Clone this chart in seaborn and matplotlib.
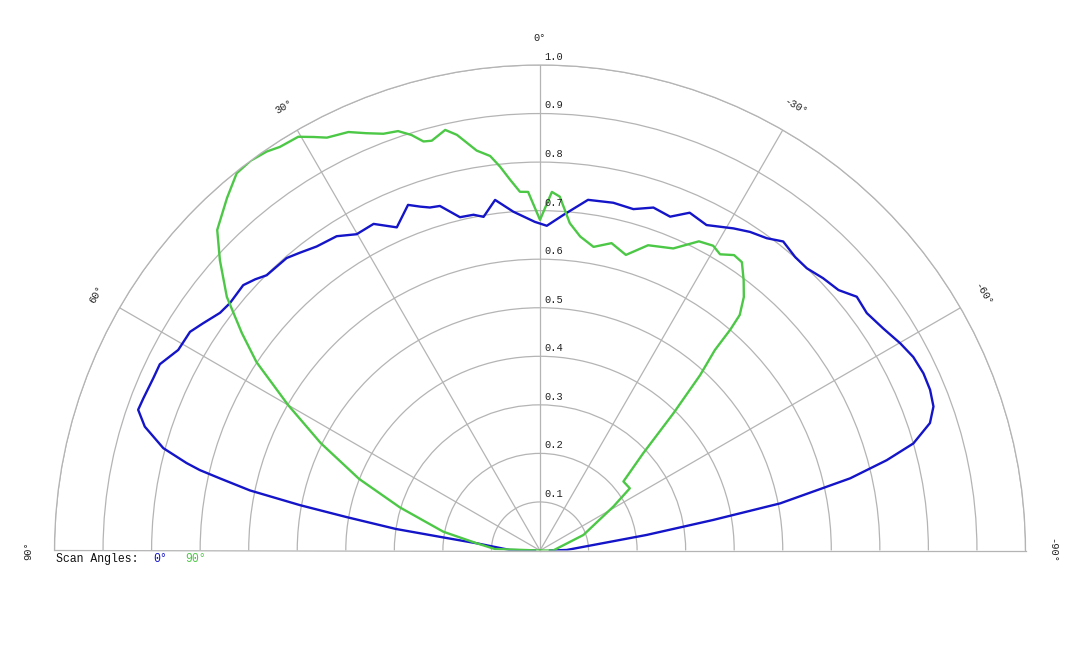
import numpy as np
import pandas as pd
import matplotlib
matplotlib.use("Agg")
import matplotlib.pyplot as plt
import seaborn as sns

# scan angle 0 deg (blue), angles in degrees, 0 = up, positive = left
blue_deg = [90, 89.0, 83.5, 82.3, 81.5, 80.2, 79.3, 78.3, 77.3, 76.7, 76.1, 74.8, 72.6,
            70.7, 69.0, 66.0, 63.9, 61.0, 58.0, 56.0, 53.4, 51.4, 48.2, 46.4, 44.8,
            40.9, 38.9, 36.3, 32.9, 30.1, 27.0, 23.9, 20.9, 19.2, 17.8, 16.2, 13.5,
            11.2, 9.6, 7.3, 4.5, 0.9, -1.2, -4.0, -7.8, -11.9, -15.3, -18.3, -21.3,
            -23.9, -27.1, -31.0, -33.4, -36.0, -38.2, -41.0, -43.4, -46.1, -48.9,
            -51.3, -54.0, -57.1, -60.1, -62.6, -65.2, -67.6, -69.9, -71.9, -74.0,
            -75.4, -76.9, -78.9, -80.0, -81.7, -84.1, -88.9, -90]
blue_r = [0.01, 0.062, 0.131, 0.201, 0.300, 0.404, 0.503, 0.610, 0.676, 0.720, 0.750,
          0.804, 0.853, 0.877, 0.875, 0.872, 0.872, 0.852, 0.850, 0.837, 0.821, 0.817,
          0.820, 0.810, 0.799, 0.797, 0.788, 0.777, 0.771, 0.753, 0.755, 0.728, 0.762,
          0.750, 0.742, 0.739, 0.706, 0.705, 0.697, 0.728, 0.700, 0.677, 0.669, 0.693,
          0.729, 0.732, 0.729, 0.744, 0.738, 0.761, 0.753, 0.774, 0.786, 0.795, 0.810,
          0.801, 0.800, 0.809, 0.816, 0.836, 0.832, 0.842, 0.856, 0.866, 0.870, 0.869,
          0.863, 0.845, 0.800, 0.738, 0.656, 0.504, 0.362, 0.222, 0.110, 0.055, 0.020]

# scan angle 90 deg (green)
green_deg = [90, 88.1, 83.5, 79.0, 72.9, 68.4, 63.9, 60.0, 56.4, 53.9, 51.0, 47.8, 45.2,
             41.6, 38.8, 36.6, 34.4, 32.8, 30.3, 28.7, 27.3, 24.6, 22.6, 20.6, 18.7,
             17.2, 15.9, 14.8, 12.7, 11.3, 9.0, 7.2, 5.95, 4.6, 3.2, 1.9, 0, -1.9, -3.2,
             -5.2, -7.3, -10.0, -13.1, -16.2, -19.5, -23.8, -27.2, -29.6, -31.3, -33.3,
             -35.0, -37.0, -38.8, -40.3, -40.75, -41.1, -42.4, -44.2, -46.7, -50.4,
             -55.3, -59.1, -70.3, -90, -90]
green_r = [0.0, 0.093, 0.131, 0.203, 0.302, 0.401, 0.503, 0.599, 0.701, 0.760, 0.830,
           0.890, 0.937, 0.971, 0.997, 1.0, 0.996, 0.989, 0.987, 0.971, 0.957, 0.948,
           0.931, 0.917, 0.912, 0.896, 0.876, 0.873, 0.888, 0.873, 0.834, 0.819, 0.795,
           0.766, 0.740, 0.739, 0.681, 0.739, 0.730, 0.677, 0.652, 0.635, 0.650, 0.634,
           0.667, 0.680, 0.716, 0.722, 0.714, 0.728, 0.725, 0.697, 0.670, 0.636, 0.600,
           0.548, 0.489, 0.394, 0.292, 0.223, 0.225, 0.176, 0.095, 0.027, 0.0]

ring_values = [0.1, 0.2, 0.3, 0.4, 0.5, 0.6, 0.7, 0.8, 0.9, 1.0]
spoke_deg = [-60, -30, 0, 30, 60]
angle_labels = [90, 60, 30, 0, -30, -60, -90]

BLUE = "#1414c8"
GREEN = "#4cc846"
GRID = "#b4b4b4"

sns.set_style("white")
plt.rcParams["font.family"] = ["Liberation Mono", "DejaVu Sans Mono"]

fig = plt.figure(figsize=(10.8, 6.48), dpi=100)
# the polar box is forced square; the half disc sits in its vertical middle,
# so the box is 971 px square and centred 242.75 px above the disc centre
R = 485.5
cx, cy = 540, 648 - 550.5
ax = fig.add_axes([(cx - R) / 1080, (cy + R / 2 - R) / 648, 2 * R / 1080, 2 * R / 648],
                  projection="polar")
ax.set_theta_zero_location("N")
ax.set_theta_direction(1)
ax.set_thetamin(-90)
ax.set_thetamax(90)

blue = pd.DataFrame({"theta": np.deg2rad(blue_deg), "r": blue_r})
green = pd.DataFrame({"theta": np.deg2rad(green_deg), "r": green_r})
sns.lineplot(data=blue, x="theta", y="r", ax=ax, sort=False, estimator=None,
             color=BLUE, linewidth=1.7, legend=False)
sns.lineplot(data=green, x="theta", y="r", ax=ax, sort=False, estimator=None,
             color=GREEN, linewidth=1.7, legend=False)

ax.set_ylim(0, 1)
ax.set_rgrids(ring_values, labels=[""] * len(ring_values))
ax.set_thetagrids(spoke_deg, labels=[""] * len(spoke_deg))
ax.grid(True, color=GRID, linewidth=0.9)
for sp in ax.spines.values():
    sp.set_color(GRID)
    sp.set_linewidth(0.9)
ax.set_xlabel("")
ax.set_ylabel("")

# radial labels along the 0 deg spoke
for v in ring_values:
    ax.annotate(f"{v:.1f}", xy=(0, v), xytext=(3.2, 5.8), textcoords="offset points",
                ha="left", va="center", fontsize=7.5, color="#222222")

# angle labels around the rim
for t in angle_labels:
    ax.text(np.deg2rad(t), 1.055, f"{t}°", rotation=t, rotation_mode="anchor",
            ha="center", va="center", fontsize=7.5, color="#222222", clip_on=False)

# legend
y_leg = 89 / 648
fig.text(56 / 1080, y_leg, "Scan Angles:", fontsize=8.3, va="center", color="#111111")
fig.text(153 / 1080, y_leg, "0°", fontsize=8.3, va="center", color=BLUE)
fig.text(185 / 1080, y_leg, "90°", fontsize=8.3, va="center", color=GREEN)

fig.savefig("out.png", dpi=100)
